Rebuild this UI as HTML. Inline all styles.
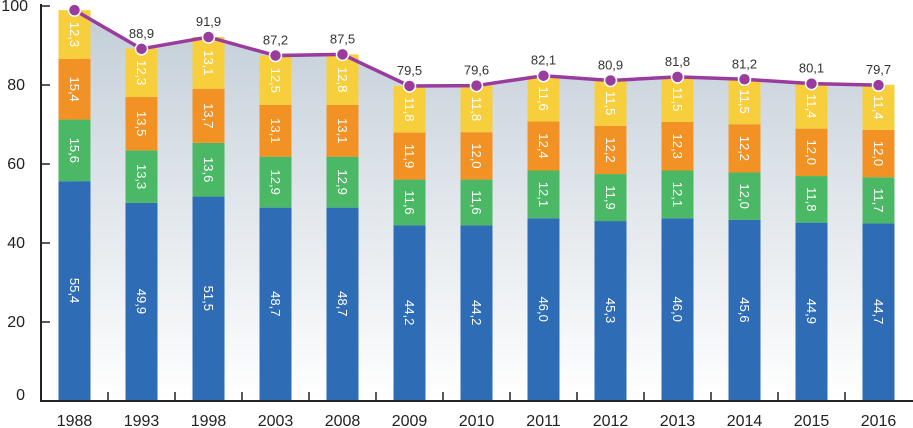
<!DOCTYPE html>
<html><head><meta charset="utf-8"><style>
html,body{margin:0;padding:0;background:#fff;}
svg{display:block;font-family:"Liberation Sans",sans-serif;}
</style></head><body>
<svg id="chart" width="913" height="428" viewBox="0 0 913 428">
<defs><linearGradient id="ag" x1="0" y1="0" x2="0" y2="1"><stop offset="0" stop-color="#c3ced8"/><stop offset="1" stop-color="#ffffff"/></linearGradient></defs>
<g id="area"></g><g id="bars"></g><g id="axes"></g><g id="line"></g>
</svg>
<script>
const years=["1988","1993","1998","2003","2008","2009","2010","2011","2012","2013","2014","2015","2016"];
const blue=[55.4,49.9,51.5,48.7,48.7,44.2,44.2,46.0,45.3,46.0,45.6,44.9,44.7];
const green=[15.6,13.3,13.6,12.9,12.9,11.6,11.6,12.1,11.9,12.1,12.0,11.8,11.7];
const orange=[15.4,13.5,13.7,13.1,13.1,11.9,12.0,12.4,12.2,12.3,12.2,12.0,12.0];
const yellow=[12.3,12.3,13.1,12.5,12.8,11.8,11.8,11.6,11.5,11.5,11.5,11.4,11.4];
const totals=[98.7,88.9,91.9,87.2,87.5,79.5,79.6,82.1,80.9,81.8,81.2,80.1,79.7];
const totalLabels=["","88,9","91,9","87,2","87,5","79,5","79,6","82,1","80,9","81,8","81,2","80,1","79,7"];
const yTicks=[0,20,40,60,80,100];
const NS="http://www.w3.org/2000/svg";
const x0=74.5,step=67,bw=32,yBase=400,yScale=3.95;
const X=i=>x0+i*step, Y=v=>yBase-v*yScale;
function mk(t,a,p){const e=document.createElementNS(NS,t);for(const k in a)e.setAttribute(k,a[k]);p.appendChild(e);return e;}
const fmt=v=>v.toFixed(1).replace('.',',');
let pts=totals.map((v,i)=>X(i)+","+Y(v)).join(" ");
pts+=" "+X(years.length-1)+","+yBase+" "+X(0)+","+yBase;
const ar=mk("polygon",{points:pts,fill:"url(#ag)"},document.getElementById("area"));


const series=[["blue",blue,"#2e6cb5"],["green",green,"#4bb866"],["orange",orange,"#f39224"],["yellow",yellow,"#f7cf3d"]];
const bg=document.getElementById("bars");
years.forEach((yr,i)=>{
  let acc=0;
  series.forEach(([n,arr,c])=>{
    const v=arr[i],y1=Y(acc+v),y0=Y(acc);
    const r=mk("rect",{x:X(i)-bw/2,y:y1,width:bw,height:y0-y1,fill:c},bg);
    
    
    const cy=(y0+y1)/2;
    const t=mk("text",{x:0,y:0,transform:`translate(${X(i)-4.5},${cy}) rotate(90)`,"text-anchor":"middle","font-size":"13",fill:"#fff"},bg);
    t.textContent=fmt(v);
    
    
    acc+=v;
  });
});
const ax=document.getElementById("axes");
const yl=mk("line",{x1:41,y1:4,x2:41,y2:401,stroke:"#222","stroke-width":2},ax);

const xl=mk("line",{x1:40,y1:401,x2:913,y2:401,stroke:"#222","stroke-width":2},ax);

yTicks.forEach(v=>{
  if(v>0){const tk=mk("line",{x1:41,y1:Y(v)+1,x2:50,y2:Y(v)+1,stroke:"#222","stroke-width":1.5},ax);
  }
  const t=mk("text",{x:v==100?28:25,y:Y(v)+(v==0?0:6),"text-anchor":"end","font-size":"16",fill:"#222"},ax);
  t.textContent=v;
});
years.forEach((yr,i)=>{
  const xt=X(i)+step/2;
  if(i<years.length-1){const tk=mk("line",{x1:xt,y1:392,x2:xt,y2:401,stroke:"#222","stroke-width":1.5},ax);
  }
  const t=mk("text",{x:X(i),y:426,"text-anchor":"middle","font-size":"16",fill:"#222"},ax);
  t.textContent=yr;
});
const lg=document.getElementById("line");
const pl=mk("polyline",{points:totals.map((v,i)=>X(i)+","+Y(v)).join(" "),fill:"none",stroke:"#9a3c9e","stroke-width":3.5},lg);

totals.forEach((v,i)=>{
  const c=mk("circle",{cx:X(i),cy:Y(v),r:6,fill:"#9a3c9e",stroke:"#fff","stroke-width":1.5},lg);
  
  if(totalLabels[i]){const t=mk("text",{x:X(i),y:Y(v)-11,"text-anchor":"middle","font-size":"13",fill:"#333"},lg);
  t.textContent=totalLabels[i];}
});
</script>
</body></html>
